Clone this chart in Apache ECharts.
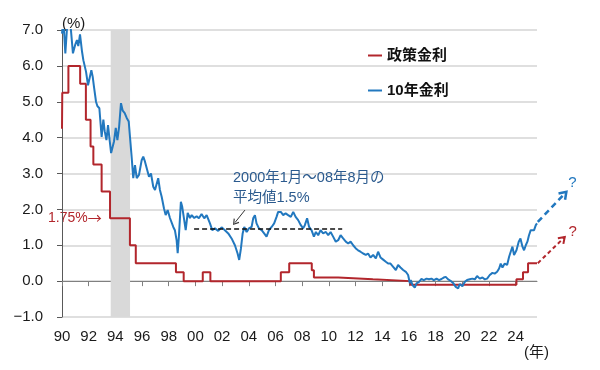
<!DOCTYPE html>
<html><head><meta charset="utf-8">
<script src="https://cdn.jsdelivr.net/npm/echarts@6/dist/echarts.min.js"></script>
<style>html,body{margin:0;padding:0;background:#fff}#c{width:600px;height:370px}</style>
</head><body><div id="c"></div>
<script>
const seriesNames = ['政策金利', '10年金利'];
const policyRate = [
 [1990.00,4.25],[1990.02,5.25],[1990.48,6.0],[1991.36,5.5],[1991.79,4.5],[1992.14,3.75],[1992.35,3.25],
 [1992.97,2.5],[1993.6,1.75],[1995.09,1.0],[1995.53,0.5],[1998.54,0.25],[1999.12,0],[2000.55,0.25],
 [2001.12,0],[2006.4,0.25],[2007.03,0.5],[2008.72,0.3],[2008.88,0.1],[2010.7,0.05],[2013.3,0],
 [2016.1,-0.1],[2024.06,0.05],[2024.55,0.25],[2024.93,0.5],[2025.6,0.5]
];
const jgb10y = [
 [1990.00,6.90],[1990.10,7.30],[1990.25,6.35],[1990.40,7.20],[1990.60,7.30],[1990.82,6.35],[1991.00,6.60],
 [1991.12,6.72],[1991.22,6.55],[1991.35,6.88],[1991.50,6.40],[1991.60,6.16],[1991.80,5.84],[1991.95,5.46],
 [1992.05,5.45],[1992.20,5.88],[1992.30,5.70],[1992.40,5.41],[1992.55,5.00],[1992.65,4.88],[1992.80,4.82],
 [1992.97,4.02],[1993.10,4.50],[1993.20,4.18],[1993.33,3.93],[1993.45,4.35],[1993.57,3.93],[1993.68,3.57],
 [1993.80,3.60],[1993.90,3.90],[1994.03,4.27],[1994.15,3.93],[1994.28,4.30],[1994.42,4.96],[1994.55,4.75],
 [1994.70,4.68],[1994.85,4.55],[1995.00,4.45],[1995.09,4.40],[1995.22,3.46],[1995.34,2.87],[1995.47,3.23],
 [1995.60,2.87],[1995.77,2.96],[1995.97,3.37],[1996.09,3.47],[1996.22,3.33],[1996.34,3.37],[1996.52,2.91],
 [1996.67,3.00],[1996.84,2.63],[1996.97,2.54],[1997.21,2.87],[1997.34,2.54],[1997.47,2.35],[1997.64,2.03],
 [1997.77,1.84],[1997.92,1.98],[1998.09,1.76],[1998.22,1.79],[1998.34,1.51],[1998.46,1.42],[1998.59,1.14],
 [1998.67,0.78],[1998.76,1.24],[1998.91,2.21],[1999.01,2.07],[1999.16,1.70],[1999.27,1.42],[1999.42,1.90],
 [1999.59,1.76],[1999.72,1.84],[1999.91,1.76],[2000.09,1.81],[2000.26,1.75],[2000.46,1.87],[2000.66,1.75],
 [2000.84,1.84],[2001.09,1.61],[2001.26,1.42],[2001.46,1.47],[2001.71,1.40],[2001.96,1.50],[2002.21,1.42],
 [2002.46,1.33],[2002.71,1.19],[2002.96,1.00],[2003.16,0.77],[2003.28,0.59],[2003.41,0.91],[2003.54,1.33],
 [2003.66,1.51],[2003.84,1.37],[2004.01,1.47],[2004.21,1.51],[2004.33,1.75],[2004.46,1.84],[2004.58,1.61],
 [2004.76,1.47],[2004.96,1.42],[2005.15,1.33],[2005.33,1.24],[2005.51,1.42],[2005.71,1.51],[2005.90,1.61],
 [2006.08,1.79],[2006.20,1.93],[2006.40,1.93],[2006.58,1.84],[2006.76,1.89],[2006.95,1.84],[2007.15,1.79],
 [2007.33,1.93],[2007.51,1.79],[2007.70,1.70],[2007.90,1.56],[2008.07,1.47],[2008.20,1.56],[2008.37,1.75],
 [2008.52,1.51],[2008.70,1.42],[2008.88,1.24],[2009.03,1.37],[2009.20,1.28],[2009.38,1.42],[2009.57,1.33],
 [2009.78,1.37],[2009.95,1.28],[2010.13,1.37],[2010.32,1.24],[2010.52,1.10],[2010.70,1.14],[2010.88,1.28],
 [2011.07,1.19],[2011.27,1.10],[2011.45,1.05],[2011.63,1.10],[2011.82,1.00],[2012.02,0.91],[2012.19,0.86],
 [2012.37,0.82],[2012.57,0.77],[2012.77,0.73],[2012.94,0.77],[2013.12,0.66],[2013.32,0.73],[2013.52,0.63],
 [2013.69,0.82],[2013.87,0.66],[2014.07,0.60],[2014.27,0.54],[2014.44,0.49],[2014.62,0.49],[2014.82,0.40],
 [2015.02,0.31],[2015.19,0.45],[2015.37,0.38],[2015.57,0.31],[2015.77,0.26],[2015.94,0.17],[2016.07,-0.06],
 [2016.14,0.03],[2016.27,-0.11],[2016.44,-0.18],[2016.57,-0.06],[2016.76,-0.02],[2016.94,0.06],[2017.12,0.03],
 [2017.32,0.07],[2017.51,0.05],[2017.69,0.07],[2017.87,0.03],[2018.07,0.07],[2018.26,0.03],[2018.44,0.06],
 [2018.61,0.10],[2018.76,0.12],[2018.94,0.05],[2019.12,0.01],[2019.31,-0.05],[2019.51,-0.16],[2019.69,-0.20],
 [2019.81,-0.08],[2020.01,-0.14],[2020.19,-0.02],[2020.36,0.03],[2020.56,0.05],[2020.76,0.07],[2020.94,0.05],
 [2021.11,0.14],[2021.31,0.07],[2021.51,0.10],[2021.69,0.05],[2021.86,0.07],[2022.06,0.17],[2022.26,0.23],
 [2022.43,0.21],[2022.61,0.26],[2022.76,0.35],[2022.88,0.49],[2023.01,0.38],[2023.18,0.49],[2023.36,0.45],
 [2023.51,0.68],[2023.63,0.82],[2023.76,0.96],[2023.88,0.73],[2024.06,0.86],[2024.23,1.10],[2024.36,1.19],
 [2024.51,0.96],[2024.63,0.86],[2024.76,1.00],[2024.88,1.10],[2025.00,1.28],[2025.13,1.42],[2025.26,1.47],
 [2025.38,1.42],[2025.51,1.56],[2025.60,1.61]
];
const xTickYears = [1990,1992,1994,1996,1998,2000,2002,2004,2006,2008,2010,2012,2014,2016,2018,2020,2022,2024];
const recessionBand = [1993.65, 1995.1];
const xEnd = 2025.6;
const avgPeriod = [1999.9, 2011.0];
const avgValue = 1.47;
const blueArrow = [[2025.66,1.65],[2027.8,2.49]];
const redArrow = [[2025.66,0.5],[2027.68,1.23]];
const noteArrow = [[2003.71,1.98],[2002.96,1.63]];

const RED = '#b2262c', BLUE = '#2278bf', NOTE_BLUE = '#2b5a8e';
const LAT = '"Liberation Sans", Arial, "Noto Sans CJK JP", sans-serif';
const CJK = '"Noto Sans CJK JP", "Liberation Sans", sans-serif';
const CHEVRON = 'path://M5,0L10,7L8.6,7.8L5,2.5L1.4,7.8L0,7Z';
const yFmt = v => (v < 0 ? '\u2212' + Math.abs(v).toFixed(1) : v.toFixed(1));
const xFmt = v => String(v % 100).padStart(2, '0');

const chart = echarts.init(document.getElementById('c'), null, {renderer:'canvas'});
chart.setOption({
  animation: false,
  backgroundColor: '#fff',
  grid: {left: 62, right: 63, top: 30, bottom: 53, containLabel: false},
  legend: {
    data: seriesNames, orient: 'vertical', left: 368, top: 48, padding: 0,
    icon: 'rect', itemWidth: 14, itemHeight: 2, itemGap: 20,
    textStyle: {fontSize: 15, color: '#111', fontFamily: LAT, fontWeight: 'bold'}
  },
  xAxis: [
    {type:'value', min:1990, max:xEnd, interval:2, position:'bottom',
     axisLine:{show:true, onZero:true, lineStyle:{color:'#808080', width:1}},
     axisTick:{show:true, length:5, customValues: xTickYears, lineStyle:{color:'#808080'}},
     axisLabel:{show:false}, splitLine:{show:false}},
    {type:'value', min:1990, max:xEnd, interval:2, position:'bottom',
     axisLine:{show:false, onZero:false}, axisTick:{show:false}, splitLine:{show:false},
     axisLabel:{show:true, customValues: xTickYears, formatter: xFmt, margin: 12, fontSize: 15, color:'#1a1a1a', fontFamily: LAT}}
  ],
  yAxis: {
    type:'value', min:-1, max:7, interval:1,
    axisLine:{show:true, lineStyle:{color:'#595959'}},
    axisTick:{show:true, length:5, lineStyle:{color:'#595959'}},
    axisLabel:{formatter: yFmt, margin: 19, fontSize: 15, color:'#1a1a1a', fontFamily: LAT},
    splitLine:{show:true, lineStyle:{color:'#d4d4d4', width:1.5, type:'solid'}}
  },
  series: [
    {type:'line', name:seriesNames[0], data: policyRate, step:'end', showSymbol:false, z:3,
     lineStyle:{color:RED, width:2}, itemStyle:{color:RED},
     markArea:{silent:true, z:1, itemStyle:{color:'#d9d9d9'}, data:[[{xAxis:recessionBand[0]},{xAxis:recessionBand[1]}]]}},
    {type:'line', name:seriesNames[1], data: jgb10y, showSymbol:false, z:4,
     lineStyle:{color:BLUE, width:2}, itemStyle:{color:BLUE},
     markLine:{silent:true, symbol:['none','none'],
       data:[
         [{coord:[avgPeriod[0], avgValue], lineStyle:{color:'#111', width:1.5, type:[5,3]}, label:{show:false}},
          {coord:[avgPeriod[1], avgValue]}],
         [{coord:noteArrow[0], lineStyle:{color:'#333', width:1, type:'solid'}, label:{show:false}},
          {coord:noteArrow[1], symbol:CHEVRON, symbolSize:[7,6]}]
       ]}}
  ]
});

function px(p) { return chart.convertToPixel({xAxisIndex:0, yAxisIndex:0}, p); }
function arrow(pts, color, width, dash, head) {
  const p0 = px(pts[0]), p1 = px(pts[1]);
  const a = Math.atan2(p1[1]-p0[1], p1[0]-p0[0]);
  const h1 = [p1[0] - head*Math.cos(a-0.6), p1[1] - head*Math.sin(a-0.6)];
  const h2 = [p1[0] - head*Math.cos(a+0.6), p1[1] - head*Math.sin(a+0.6)];
  return {p1, els: [
    {type:'line', silent:true, z:10, shape:{x1:p0[0],y1:p0[1],x2:p1[0],y2:p1[1]}, style:{stroke:color, lineWidth:width, lineDash:dash}},
    {type:'polyline', silent:true, z:10, shape:{points:[h1,p1,h2]}, style:{stroke:color, lineWidth:width, fill:null}}
  ]};
}
const ba = arrow(blueArrow, BLUE, 2.5, [6,4], 8);
const ra = arrow(redArrow, RED, 2, [4,3], 7);

chart.setOption({graphic: [
  {type:'text', x:62, y:24, style:{text:'(%)', fontSize:15, fontFamily:LAT, fill:'#1a1a1a', align:'left', verticalAlign:'middle'}},
  {type:'text', x:524, y:353, style:{text:'(年)', fontSize:15, fontFamily:LAT, fill:'#1a1a1a', align:'left', verticalAlign:'middle'}},
  {type:'text', x:233, y:178, style:{text:'2000年1月～08年8月の', fontSize:14.5, fontFamily:LAT, fill:NOTE_BLUE, align:'left', verticalAlign:'middle'}},
  {type:'text', x:233, y:198, style:{text:'平均値1.5%', fontSize:14.5, fontFamily:LAT, fill:NOTE_BLUE, align:'left', verticalAlign:'middle'}},
  {type:'text', x:48, y:218, style:{text:'{a|1.75%}{b|→}', align:'left', verticalAlign:'middle',
    rich:{a:{fontSize:14, fontFamily:LAT, fill:RED, color:RED}, b:{fontSize:14, fontFamily:CJK, fill:RED, color:RED}}}},
  ...ba.els, ...ra.els,
  {type:'text', x:ba.p1[0]+6, y:ba.p1[1]-9, style:{text:'?', fontSize:15, fontFamily:LAT, fill:BLUE, align:'center', verticalAlign:'middle'}},
  {type:'text', x:ra.p1[0]+8, y:ra.p1[1]-5, style:{text:'?', fontSize:15, fontFamily:LAT, fill:RED, align:'center', verticalAlign:'middle'}}
]});
</script></body></html>
